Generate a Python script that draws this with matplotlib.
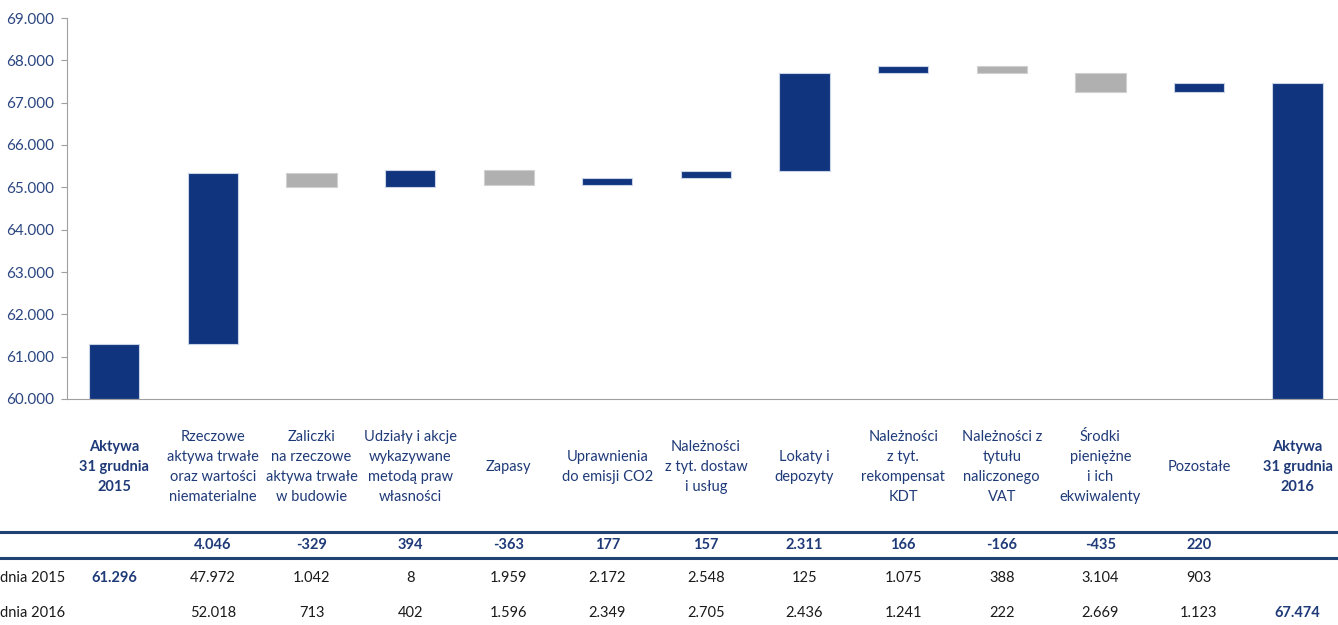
import matplotlib.pyplot as plt
import matplotlib.transforms as mtransforms
from matplotlib.lines import Line2D
from matplotlib.ticker import FuncFormatter
import numpy as np

plt.rcParams['font.family'] = ['Lato', 'DejaVu Sans']

# Data
categories = ['Aktywa\n31 grudnia\n2015',
              'Rzeczowe\naktywa trwałe\noraz wartości\nniematerialne',
              'Zaliczki\nna rzeczowe\naktywa trwałe\nw budowie',
              'Udziały i akcje\nwykazywane\nmetodą praw\nwłasności',
              'Zapasy',
              'Uprawnienia\ndo emisji CO2',
              'Należności\nz tyt. dostaw\ni usług',
              'Lokaty i\ndepozyty',
              'Należności\nz tyt.\nrekompensat\nKDT',
              'Należności z\ntytułu\nnaliczonego\nVAT',
              'Środki\npieniężne\ni ich\nekwiwalenty',
              'Pozostałe',
              'Aktywa\n31 grudnia\n2016']
total_2015 = 61296
total_2016 = 67474
deltas = [4046, -329, 394, -363, 177, 157, 2311, 166, -166, -435, 220]
values_2015 = ['47.972', '1.042', '8', '1.959', '2.172', '2.548', '125',
               '1.075', '388', '3.104', '903']
values_2016 = ['52.018', '713', '402', '1.596', '2.349', '2.705', '2.436',
               '1.241', '222', '2.669', '1.123']
delta_labels = ['4.046', '-329', '394', '-363', '177', '157', '2.311',
                '166', '-166', '-435', '220']

navy = '#10357E'
gray = '#B0B0B0'
text_navy = '#1F3A78'

fig = plt.figure(figsize=(13.38, 6.25), dpi=100)
ax = fig.add_axes([67 / 1338, 1 - 399 / 625, 1 - 67 / 1338, (399 - 18) / 625])

ymin = 60000
n = len(categories)
x = np.arange(n)
w = 0.51

# start and end totals
ax.bar(x[0], total_2015 - ymin, bottom=ymin, width=w, color=navy,
       edgecolor='#C9D3E6', linewidth=0.8)
ax.bar(x[-1], total_2016 - ymin, bottom=ymin, width=w, color=navy,
       edgecolor='#C9D3E6', linewidth=0.8)

# waterfall steps
level = total_2015
for i, d in enumerate(deltas):
    col = navy if d > 0 else gray
    ax.bar(x[i + 1], d, bottom=level, width=w, color=col,
           edgecolor='#C9D3E6' if d > 0 else '#D0D0D0', linewidth=0.8)
    level += d

ax.set_ylim(60000, 69000)
ax.set_xlim(-0.48, 12.41)
ax.set_yticks(np.arange(60000, 69001, 1000))
ax.yaxis.set_major_formatter(FuncFormatter(lambda v, p: f'{v:,.0f}'.replace(',', '.')))
ax.tick_params(axis='y', labelsize=11, labelcolor='#2A4580', color='#A0A0A0',
               length=4, pad=5)
ax.set_xticks([])
for s in ['top', 'right']:
    ax.spines[s].set_visible(False)
for s in ['left', 'bottom']:
    ax.spines[s].set_color('#A0A0A0')

# category labels and table below
trans = mtransforms.blended_transform_factory(ax.transData, fig.transFigure)
for i, lab in enumerate(categories):
    bold = i in (0, n - 1)
    ax.text(x[i], 1 - 467 / 625, lab, transform=trans, ha='center', va='center',
            fontsize=10.5, color=text_navy, linespacing=1.55,
            fontweight='bold' if bold else 'normal', clip_on=False)

for i, d in enumerate(delta_labels):
    ax.text(x[i + 1], 1 - 545 / 625, d, transform=trans, ha='center', va='center',
            fontsize=10.5, color=text_navy, fontweight='bold', clip_on=False)
    ax.text(x[i + 1], 1 - 578 / 625, values_2015[i], transform=trans, ha='center',
            va='center', fontsize=10.5, color='#1A1A1A', clip_on=False)
    ax.text(x[i + 1], 1 - 613 / 625, values_2016[i], transform=trans, ha='center',
            va='center', fontsize=10.5, color='#1A1A1A', clip_on=False)

ax.text(x[0], 1 - 578 / 625, f'{total_2015:,}'.replace(',', '.'), transform=trans,
        ha='center', va='center', fontsize=10.5, color=text_navy, fontweight='bold')
ax.text(x[-1], 1 - 613 / 625, f'{total_2016:,}'.replace(',', '.'), transform=trans,
        ha='center', va='center', fontsize=10.5, color=text_navy, fontweight='bold')

fig.text(0.0, 1 - 578 / 625, 'dnia 2015', ha='left', va='center', fontsize=10.5,
         color='#1A1A1A')
fig.text(0.0, 1 - 613 / 625, 'dnia 2016', ha='left', va='center', fontsize=10.5,
         color='#1A1A1A')

for yy in (531.5, 557.5):
    fig.add_artist(Line2D([0, 1], [1 - yy / 625] * 2, transform=fig.transFigure,
                          color='#1F4273', linewidth=2.2))

fig.savefig('out.png', dpi=100)
